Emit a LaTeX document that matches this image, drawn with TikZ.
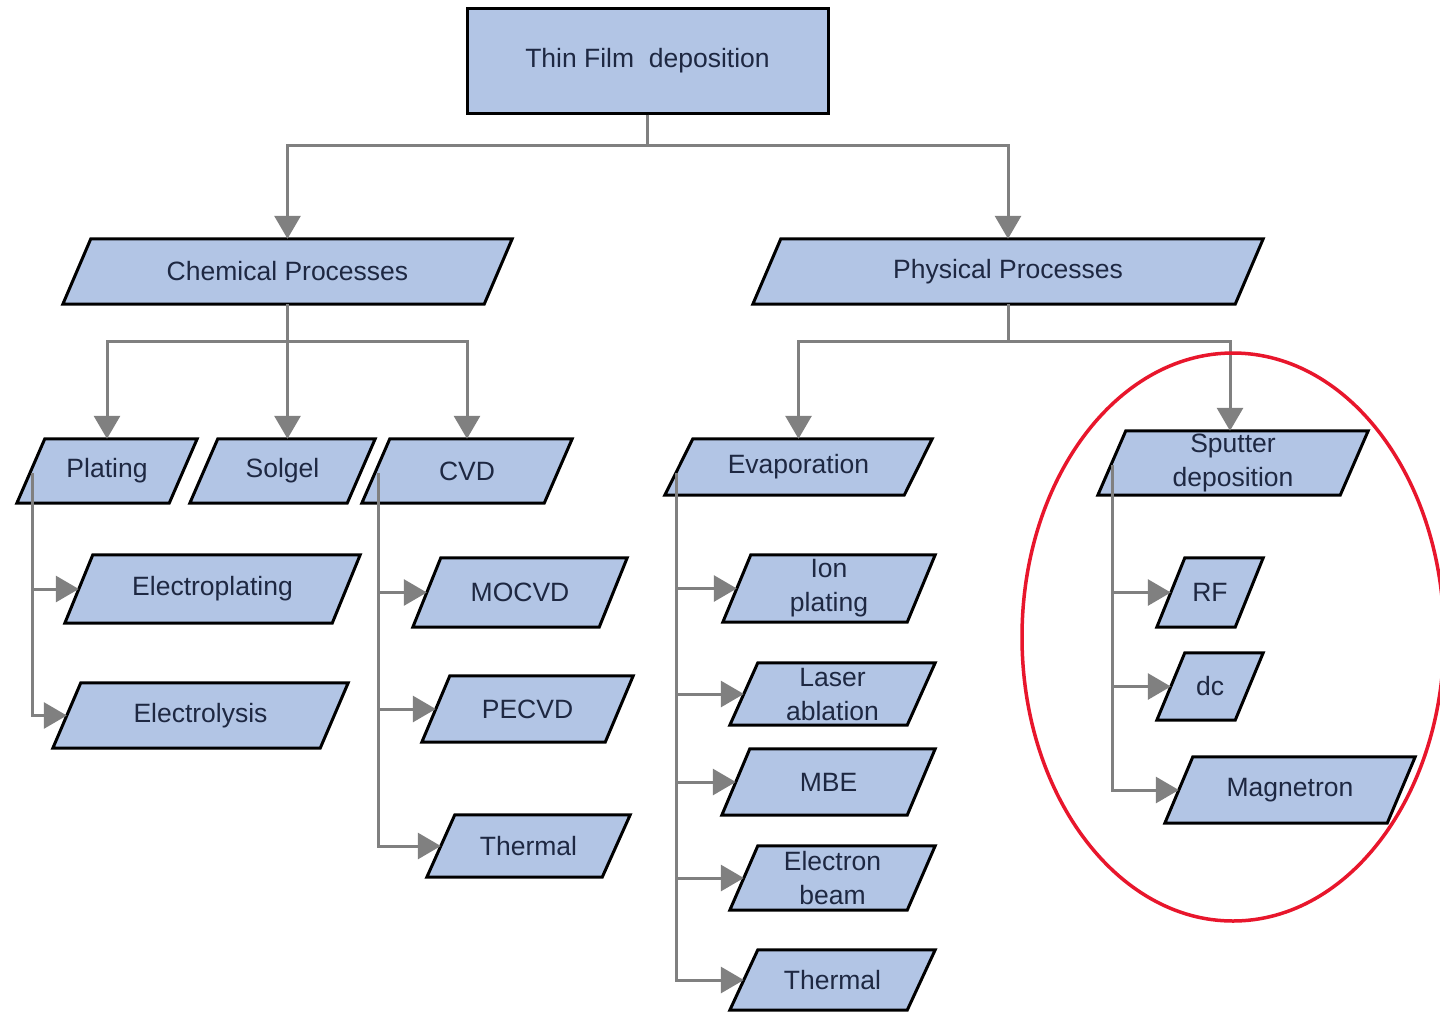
\documentclass[tikz,border=0pt]{standalone}
\usepackage{fontspec}
\setmainfont{Liberation Sans}
\usetikzlibrary{arrows.meta,backgrounds}
\definecolor{boxfill}{RGB}{178,197,229}
\definecolor{linkgray}{RGB}{128,128,128}
\definecolor{txtcol}{RGB}{30,40,66}
\definecolor{ringred}{RGB}{232,22,44}
\tikzset{
  body/.style={rectangle, draw=none, inner sep=0pt, text=txtcol,
    font=\fontsize{26.5}{34}\selectfont, align=center},
  pshape/.style={draw=black, line width=3pt, fill=boxfill, line join=miter},
  rootbox/.style={rectangle, draw=black, line width=3pt, fill=boxfill, inner sep=0pt,
    text=txtcol, font=\fontsize{26.5}{34}\selectfont},
  link/.style={draw=linkgray, line width=3pt, -{Triangle[length=23pt,width=26pt]}},
  ring/.style={draw=ringred, line width=3.5pt}
}
% #1 name, #2 x, #3 y, #4 total width, #5 height, #6 text
\newcommand{\pnode}[6]{%
  \node[body, minimum width={#4pt-28pt}, minimum height=#5pt] (#1) at (#2,#3) {#6};
  \begin{scope}[on background layer]
    \filldraw[pshape] ([xshift=14pt]#1.north west) -- ([xshift=14pt]#1.north east)
      -- ([xshift=-14pt]#1.south east) -- ([xshift=-14pt]#1.south west) -- cycle;
  \end{scope}}
\begin{document}
\begin{tikzpicture}[x=1pt,y=-1pt]
\begin{scope}[on background layer]
\fill[white] (0,0) rectangle (1440,1013);
\end{scope}
\useasboundingbox (0,0) rectangle (1440,1013);

% root
\node[rootbox, minimum width=361pt, minimum height=105pt] (thin) at (647.5,60.5) {Thin Film\ \ deposition};

% level 1
\pnode{chem}{287.5}{271.5}{449}{65}{Chemical Processes}
\pnode{phys}{1008}{271.5}{510}{65}{Physical Processes}

% level 2
\pnode{plating}{107}{471}{180}{64}{Plating}
\pnode{solgel}{282.5}{471}{185}{64}{Solgel}
\pnode{cvd}{467}{471}{210}{64}{CVD}
\pnode{evap}{798.5}{467}{267}{56}{Evaporation}
\pnode{sput}{1233}{463}{270}{64}{Sputter\\deposition}

% plating children
\pnode{eplat}{212.5}{589}{295}{68}{Electroplating}
\pnode{elys}{200.5}{715.5}{295}{65}{Electrolysis}

% cvd children
\pnode{mocvd}{520}{592.5}{214}{69}{MOCVD}
\pnode{pecvd}{527.5}{709}{211}{66}{PECVD}
\pnode{thermA}{528.5}{846}{203}{62}{Thermal}

% evaporation children
\pnode{ion}{829}{588.5}{212}{67}{Ion\\plating}
\pnode{laser}{832.5}{694}{205}{62}{Laser\\ablation}
\pnode{mbe}{828.5}{782}{213}{66}{MBE}
\pnode{ebeam}{832.5}{878}{205}{64}{Electron\\beam}
\pnode{thermB}{832.5}{980}{205}{60}{Thermal}

% sputter children
\pnode{rf}{1210}{592.5}{106}{69}{RF}
\pnode{dc}{1210}{686.5}{106}{67}{dc}
\pnode{mag}{1290}{790}{250}{66}{Magnetron}

% connectors: root
\draw[link] (thin.south) -- ++(0,31) -| (chem.north);
\draw[link] (thin.south) -- ++(0,31) -| (phys.north);

% chemical
\draw[link] (chem.south) -- ++(0,37) -| (plating.north);
\draw[link] (chem.south) -- (chem.south |- solgel.north);
\draw[link] (chem.south) -- ++(0,37) -| (cvd.north);

% physical
\draw[link] (phys.south) -- ++(0,37) -| (evap.north);
\draw[link] (phys.south) -- ++(0,37) -| ([xshift=-3pt]sput.north);

% plating branch
\coordinate (pl) at ([xshift=2pt,yshift=30pt]plating.south west);
\draw[link] (pl) |- (eplat.west);
\draw[link] (pl) |- (elys.west);

% cvd branch
\coordinate (cv) at ([xshift=3pt,yshift=30pt]cvd.south west);
\draw[link] (cv) |- (mocvd.west);
\draw[link] (cv) |- (pecvd.west);
\draw[link] (cv) |- (thermA.west);

% evaporation branch
\coordinate (ev) at ([xshift=-2pt,yshift=22pt]evap.south west);
\draw[link] (ev) |- (ion.west);
\draw[link] (ev) |- (laser.west);
\draw[link] (ev) |- (mbe.west);
\draw[link] (ev) |- (ebeam.west);
\draw[link] (ev) |- (thermB.west);

% sputter branch
\coordinate (sp) at ([xshift=1pt,yshift=30pt]sput.south west);
\draw[link] (sp) |- (rf.west);
\draw[link] (sp) |- (dc.west);
\draw[link] (sp) |- (mag.west);

% red highlight
\draw[ring] (1233,637) ellipse [x radius=211, y radius=284];
\end{tikzpicture}
\end{document}
